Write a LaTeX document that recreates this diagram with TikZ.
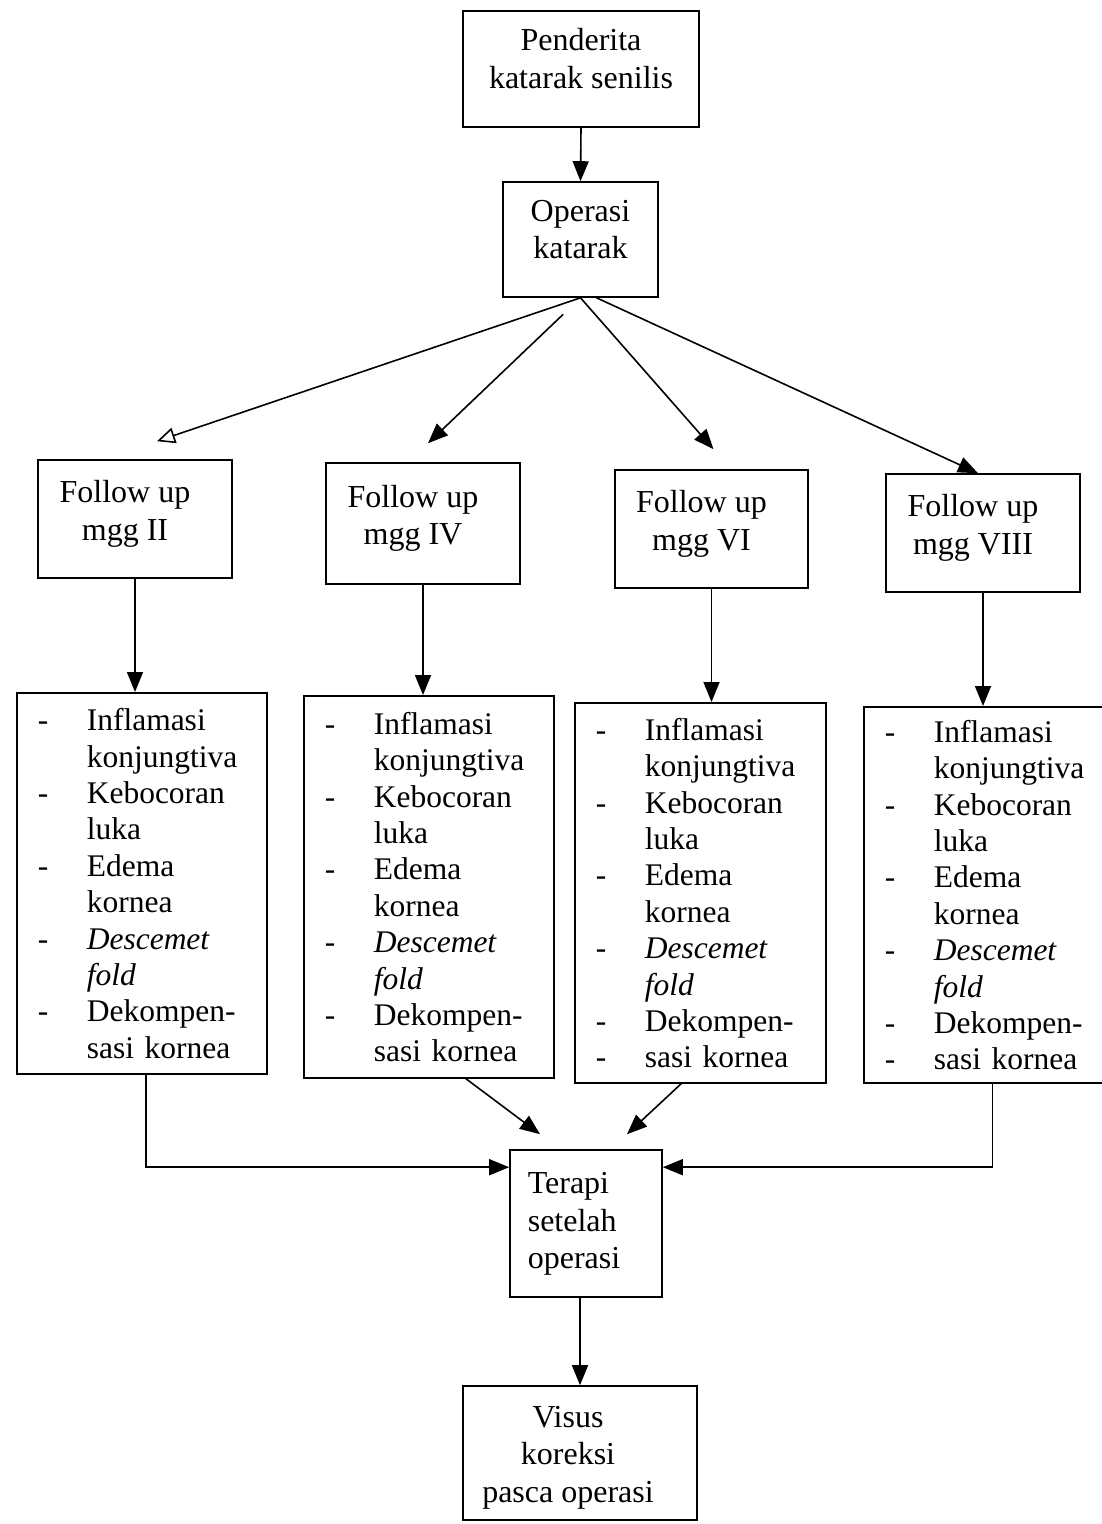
\documentclass[tikz,border=0pt]{standalone}
\usepackage{fontspec}
\setmainfont{Liberation Serif}
\usetikzlibrary{arrows.meta,calc}
\newcommand{\symlist}[1]{\begin{tabular}{@{}p{49pt}@{}l@{}}
 - & Inflamasi\\ & konjungtiva\\ - & Kebocoran\\ & luka\\ - & Edema\\ & kornea\\
 - & \textit{Descemet}\\ & \textit{fold}\\ - & Dekompen-\\ #1 & sasi kornea\\[-8pt]\end{tabular}}
\begin{document}
\begin{tikzpicture}[x=1pt,y=-1pt,
  box/.style={draw,line width=1.6pt,inner sep=0pt,font=\fontsize{32}{37.5}\selectfont},
  listbox/.style={draw,line width=1.6pt,anchor=north west,inner xsep=21pt,inner ysep=0pt,align=left,
    font=\fontsize{31.5}{36.4}\selectfont},
  arr/.style={line width=1.6pt,-{Triangle[length=20pt,width=16pt]}},
  arro/.style={line width=1.6pt,-{Triangle[open,length=18pt,width=16pt]}}]
\useasboundingbox (0,0) rectangle (1102,1524);
\fill[white] (0,0) rectangle (1102,1524);
\clip (0,0) rectangle (1102,1524);

\node[box,minimum width=236pt,minimum height=116pt] (B1) at (581,69)
  {\begin{tabular}{@{}c@{}}Penderita\\katarak senilis\\[14pt]\end{tabular}};
\node[box,minimum width=155pt,minimum height=115pt] (B2) at (580.5,239.5)
  {\begin{tabular}{@{}c@{}}Operasi\\katarak\\[14pt]\end{tabular}};

\node[box,minimum width=194pt,minimum height=118pt] (F2) at (135,519)
  {\begin{tabular}{@{}c@{\hspace{20pt}}}Follow up\\mgg II\\[10pt]\end{tabular}};
\node[box,minimum width=194pt,minimum height=121pt] (F4) at (423,523.5)
  {\begin{tabular}{@{}c@{\hspace{20pt}}}Follow up\\mgg IV\\[10pt]\end{tabular}};
\node[box,minimum width=193pt,minimum height=118pt] (F6) at (711.5,529)
  {\begin{tabular}{@{}c@{\hspace{20pt}}}Follow up\\mgg VI\\[10pt]\end{tabular}};
\node[box,minimum width=194pt,minimum height=118pt] (F8) at (983,533)
  {\begin{tabular}{@{}c@{\hspace{20pt}}}Follow up\\mgg VIII\\[10pt]\end{tabular}};

\node[listbox,minimum width=250pt,minimum height=381pt,text width=208pt] (L2) at (16,692) {\symlist{}};
\node[listbox,minimum width=250pt,minimum height=382pt,text width=208pt] (L4) at (303,695) {\symlist{}};
\node[listbox,minimum width=251pt,minimum height=380pt,text width=209pt] (L6) at (574,702) {\symlist{-}};
\node[listbox,minimum width=247pt,minimum height=376pt,text width=205pt] (L8) at (863,706) {\symlist{-}};

\node[box,minimum width=152pt,minimum height=147pt] (T) at (586,1223.5)
  {\begin{tabular}{@{}l@{\hspace{24pt}}}Terapi\\setelah\\operasi\end{tabular}};
\node[box,minimum width=234pt,minimum height=134pt] (V) at (580,1453)
  {\begin{tabular}{@{}c@{\hspace{24pt}}}Visus\\koreksi\\pasca operasi\\[-8pt]\end{tabular}};

\draw[arr] (B1.south) -- (B2.north);
\draw[arro] (B2.south) -- ($(F2.north)+(22,-18)$);
\draw[arr,shorten <=24pt] (B2.south) -- ($(F4.north)+(5,-19)$);
\draw[arr] (B2.south) -- ($(F6.north)+(2,-20)$);
\draw[arr] ($(B2.south)+(16,0)$) -- ($(F8.north)+(-5,0)$);

\draw[arr] (F2.south) -- (F2.south |- L2.north);
\draw[arr] (F4.south) -- (F4.south |- L4.north);
\draw[arr] (F6.south) -- (F6.south |- L6.north);
\draw[arr] (F8.south) -- (F8.south |- L8.north);

\draw[arr] ($(L2.south)+(4,0)$) |- ($(T.north west)+(0,18)$);
\draw[arr] ($(L4.south)+(37,0)$) -- ($(T.north)+(-46,-15)$);
\draw[arr] ($(L6.south)+(-19,0)$) -- ($(T.north)+(41,-15)$);
\draw[arr] ($(L8.south)+(5,0)$) |- ($(T.north east)+(0,18)$);
\draw[arr] (V.north |- T.south) -- (V.north);
\end{tikzpicture}
\end{document}
